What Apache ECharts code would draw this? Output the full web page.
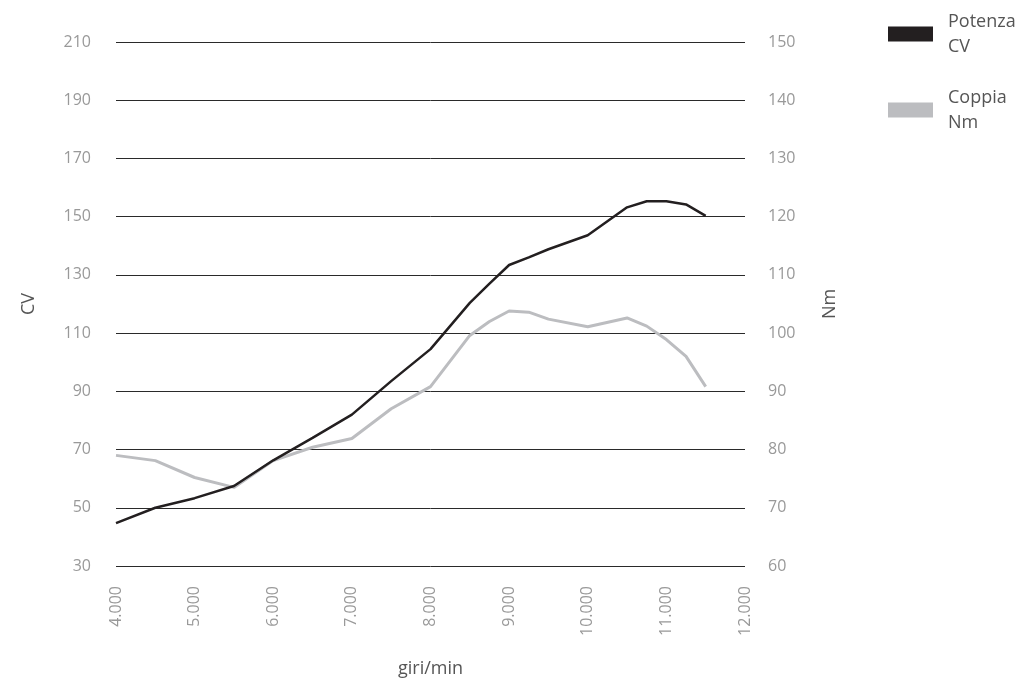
<!DOCTYPE html>
<html>
<head>
<meta charset="utf-8">
<script src="https://cdn.jsdelivr.net/npm/echarts@6/dist/echarts.min.js"></script>
<style>
html,body{margin:0;padding:0;background:#fff;}
#c{width:1025px;height:683px;}
</style>
</head>
<body>
<div id="c"></div>
<script>
const rpm = [4000,4500,5000,5500,6000,6500,7000,7500,8000,8500,8750,9000,9250,9500,10000,10500,10750,11000,11250,11500];
const potenzaCV = [44.7,50,53.3,57.5,66.3,74,82,93.5,104.5,120.4,127,133.4,136,138.8,143.6,153.2,155.3,155.3,154.2,150.3];
const coppiaNm = [79,78.1,75.2,73.5,78.1,80.4,81.9,87,90.8,99.6,102,103.8,103.6,102.4,101.1,102.6,101.2,98.9,96,90.8];
const leftTicks = {min:30, max:210, interval:20};
const rightTicks = {min:60, max:150, interval:10};
const xTicks = {min:4000, max:12000, interval:1000};

const FONT = '"Open Sans", "Noto Sans", sans-serif';
const chart = echarts.init(document.getElementById('c'), null, {renderer:'canvas'});
const fmtThousands = v => {
  const s = String(v);
  return s.length > 3 ? s.slice(0, s.length-3) + '.' + s.slice(s.length-3) : s;
};
chart.setOption({
  animation:false,
  backgroundColor:'#ffffff',
  grid:{left:116, right:280, top:42, bottom:115, containLabel:false},
  legend:{
    orient:'vertical', left:888, top:9, padding:0,
    itemWidth:45, itemHeight:15, itemGap:26,
    icon:'rect',
    data:['Potenza','Coppia'],
    formatter: n => n === 'Potenza' ? 'Potenza\nCV' : 'Coppia\nNm',
    textStyle:{fontFamily:FONT, fontSize:18, color:'#555', lineHeight:25, padding:[0,0,0,10]}
  },
  xAxis:{
    type:'value', min:xTicks.min, max:xTicks.max, interval:xTicks.interval,
    name:'giri/min', nameLocation:'middle', nameGap:94,
    nameTextStyle:{fontFamily:FONT, fontSize:18, color:'#555'},
    axisLine:{show:false}, axisTick:{show:false}, splitLine:{show:false},
    axisLabel:{rotate:90, margin:20, color:'#999', fontFamily:FONT, fontSize:16, formatter:fmtThousands}
  },
  yAxis:[
    {
      type:'value', position:'left', min:leftTicks.min, max:leftTicks.max, interval:leftTicks.interval,
      name:'CV', nameLocation:'middle', nameGap:78,
      nameTextStyle:{fontFamily:FONT, fontSize:18, color:'#555'},
      axisLine:{show:false}, axisTick:{show:false},
      splitLine:{show:true, lineStyle:{color:'#2a2a2a', width:1}},
      axisLabel:{margin:25, color:'#999', fontFamily:FONT, fontSize:16}
    },
    {
      type:'value', position:'right', min:rightTicks.min, max:rightTicks.max, interval:rightTicks.interval,
      name:'Nm', nameLocation:'middle', nameGap:76, nameRotate:90,
      nameTextStyle:{fontFamily:FONT, fontSize:18, color:'#555'},
      axisLine:{show:false}, axisTick:{show:false}, splitLine:{show:false},
      axisLabel:{margin:23, color:'#999', fontFamily:FONT, fontSize:16}
    }
  ],
  series:[
    {
      name:'Potenza', type:'line', yAxisIndex:0, showSymbol:false, symbol:'none',
      data: rpm.map((r,i)=>[r, potenzaCV[i]]),
      lineStyle:{color:'#231f20', width:2.5}, itemStyle:{color:'#231f20'}, z:3
    },
    {
      name:'Coppia', type:'line', yAxisIndex:1, showSymbol:false, symbol:'none',
      data: rpm.map((r,i)=>[r, coppiaNm[i]]),
      lineStyle:{color:'#bcbdc0', width:3}, itemStyle:{color:'#bcbdc0'}, z:2
    }
  ]
});
</script>
</body>
</html>
